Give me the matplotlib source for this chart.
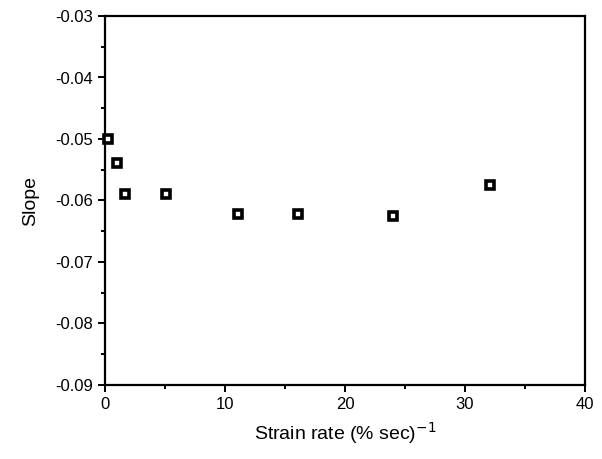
import matplotlib
matplotlib.use("Agg")
import matplotlib.pyplot as plt
from matplotlib.ticker import MultipleLocator, FormatStrFormatter

strain_rate = [0.25, 1.0, 1.7, 5.05, 11.1, 16.05, 24.0, 32.1]
slope = [-0.0500, -0.0539, -0.0590, -0.0590, -0.0622, -0.0622, -0.0625, -0.0574]

plt.rcParams['font.family'] = ['Liberation Sans', 'DejaVu Sans']

fig = plt.figure(figsize=(6.02, 4.59), dpi=100)
ax = fig.add_axes([105/602, 74/459, 480/602, 369/459])

ax.plot(strain_rate, slope, linestyle='none', marker='s', markersize=6,
        markerfacecolor='white', markeredgecolor='black', markeredgewidth=2.6,
        clip_on=False, zorder=3)

ax.set_xlim(0, 40)
ax.set_ylim(-0.09, -0.03)
ax.xaxis.set_major_locator(MultipleLocator(10))
ax.xaxis.set_minor_locator(MultipleLocator(5))
ax.yaxis.set_major_locator(MultipleLocator(0.01))
ax.yaxis.set_minor_locator(MultipleLocator(0.005))
ax.yaxis.set_major_formatter(FormatStrFormatter('%.2f'))

for s in ax.spines.values():
    s.set_linewidth(1.6)
ax.tick_params(which='both', direction='out', top=False, right=False, width=1.4, labelsize=12)
ax.tick_params(which='major', length=5)
ax.tick_params(which='minor', length=3)

ax.set_xlabel('Strain rate (% sec)$^{-1}$', fontsize=14, labelpad=6)
ax.set_ylabel('Slope', fontsize=14, labelpad=12)

fig.savefig('out.png', dpi=100)
